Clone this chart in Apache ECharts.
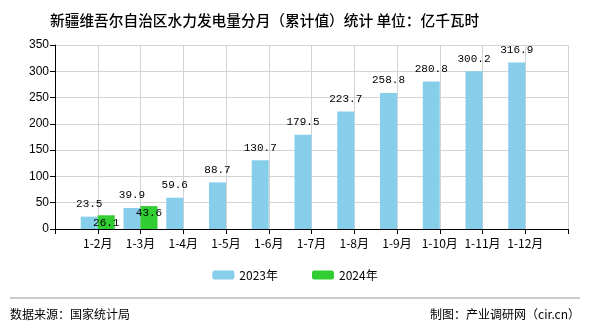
<!DOCTYPE html>
<html>
<head>
<meta charset="utf-8">
<script src="https://cdn.jsdelivr.net/npm/echarts@6/dist/echarts.min.js"></script>
<style>html,body{margin:0;padding:0;background:#fff;}#c{width:590px;height:330px;}</style>
</head>
<body>
<div id="c"></div>
<script>
var titleText = '新疆维吾尔自治区水力发电量分月（累计值）统计 单位：亿千瓦时';
var categories = ['1-2月','1-3月','1-4月','1-5月','1-6月','1-7月','1-8月','1-9月','1-10月','1-11月','1-12月'];
var seriesNames = ['2023年','2024年'];
var values2023 = [23.5, 39.9, 59.6, 88.7, 130.7, 179.5, 223.7, 258.8, 280.8, 300.2, 316.9];
var values2024 = [26.1, 43.6];
var yTicks = {min: 0, max: 350, interval: 50};
var sourceText = '数据来源：国家统计局';
var creditText = '制图：产业调研网（cir.cn）';

var xCats = [''].concat(categories).concat(['']);
function pad(arr){
  var out = [null];
  for (var i = 0; i < categories.length; i++) out.push(i < arr.length ? arr[i] : null);
  out.push(null);
  return out;
}
var chart = echarts.init(document.getElementById('c'), null, {renderer:'canvas'});
var labelFont = {fontFamily: 'Liberation Mono, monospace', fontSize: 11, color: '#000'};
chart.setOption({
  animation: false,
  backgroundColor: '#fff',
  title: {text: titleText, left: 45, top: 8,
    textStyle: {fontFamily: 'Noto Sans CJK SC', fontSize: 14.7, fontWeight: 500, color: '#000'}},
  legend: {bottom: 44, left: 'center', itemWidth: 22, itemHeight: 9, itemGap: 34,
    textStyle: {fontFamily: 'Noto Sans CJK SC', fontSize: 12, color: '#000'},
    data: seriesNames},
  grid: {left: 55, right: 22, top: 45, bottom: 101},
  xAxis: {type: 'category', data: xCats, boundaryGap: false,
    axisLine: {lineStyle: {color: '#000', width: 1}},
    axisTick: {show: true, length: 5, lineStyle: {color: '#000'}},
    axisLabel: {interval: 0, fontFamily: 'Noto Sans CJK SC', fontSize: 12, color: '#000', margin: 8},
    splitLine: {show: true, lineStyle: {color: '#d3d3d3'}}},
  yAxis: {type: 'value', min: yTicks.min, max: yTicks.max, interval: yTicks.interval,
    axisLine: {show: true, lineStyle: {color: '#000'}},
    axisTick: {show: true, length: 5, lineStyle: {color: '#000'}},
    axisLabel: {fontFamily: 'Liberation Sans, Arial', fontSize: 12, color: '#000', margin: 6},
    splitLine: {show: true, lineStyle: {color: '#d3d3d3'}}},
  series: [
    {name: seriesNames[0], type: 'bar', data: pad(values2023), barWidth: 17, barGap: '0%',
      itemStyle: {color: '#87ceeb'},
      label: {show: true, position: 'top', distance: 7, formatter: function(p){return p.value.toFixed(1);}, textStyle: labelFont}},
    {name: seriesNames[1], type: 'bar', data: pad(values2024), barWidth: 17, barGap: '0%',
      itemStyle: {color: '#32cd32'},
      label: {show: true, position: 'insideTop', distance: 2, formatter: function(p){return p.value.toFixed(1);}, textStyle: labelFont}}
  ],
  graphic: [
    {type: 'line', shape: {x1: 10, y1: 298, x2: 580, y2: 298}, style: {stroke: '#999', lineWidth: 1}},
    {type: 'text', left: 10, top: 308, style: {text: sourceText, font: '12px "Noto Sans CJK SC"', fill: '#000'}},
    {type: 'text', right: 10, top: 308, style: {text: creditText, font: '12px "Noto Sans CJK SC"', fill: '#000'}}
  ]
});
</script>
</body>
</html>
